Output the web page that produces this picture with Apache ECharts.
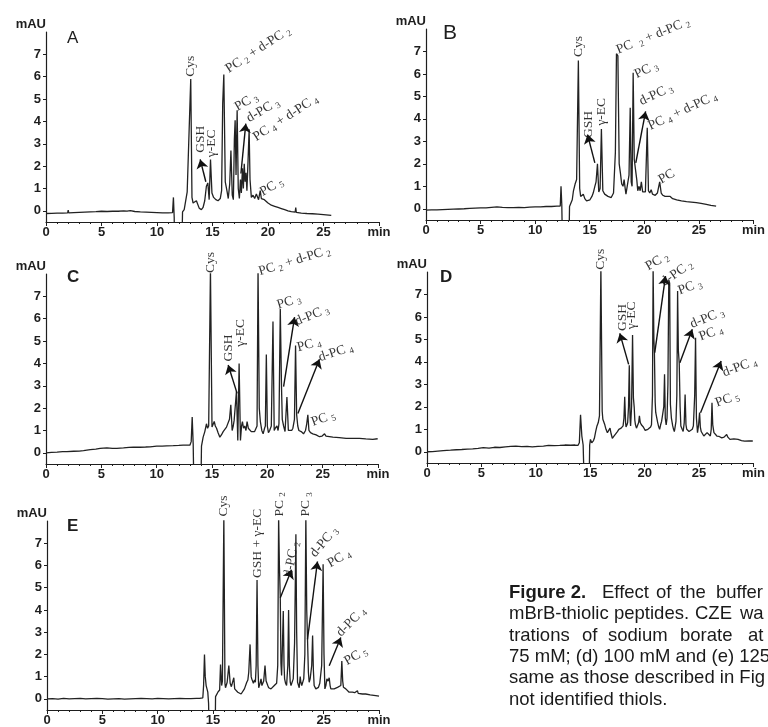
<!DOCTYPE html>
<html>
<head>
<meta charset="utf-8">
<script src="https://cdn.jsdelivr.net/npm/echarts@6/dist/echarts.min.js"></script>
<style>
  html, body { margin: 0; padding: 0; background: #fff; }
  #chart { width: 768px; height: 727px; }
</style>
</head>
<body>
<div id="chart"></div>
<script>
// electropherograms: [time (min), absorbance (mAU)]
const traceA = [[0,-0.12],[0.5,-0.11],[1,-0.1],[1.5,-0.1],[1.95,-0.09],[2.0,0.03],[2.05,-0.09],[2.5,-0.08],[3,-0.07],[3.5,-0.06],[4,-0.05],[4.5,-0.04],[5,-0.02],[5.5,-0.03],[6,-0.02],[6.5,-0.02],[7,0.0],[7.3,-0.01],[7.6,0.01],[8,-0.03],[8.5,-0.05],[9,-0.06],[9.5,-0.07],[10,-0.08],[10.5,-0.09],[11,-0.09],[11.4,-0.08],[11.48,0.6],[11.55,-0.3],[11.58,-1.5],[12.25,-1.5],[12.3,-0.05],[12.45,0.05],[12.6,0.12],[12.72,0.85],[12.85,0.9],[13.04,5.9],[13.15,0.6],[13.25,0.35],[13.4,0.3],[13.55,0.45],[13.65,0.4],[13.8,0.12],[14.0,0.05],[14.15,0.15],[14.3,0.45],[14.45,1.1],[14.58,1.25],[14.7,0.5],[14.82,2.3],[14.95,0.8],[15.1,0.6],[15.3,0.5],[15.5,0.45],[15.7,0.55],[15.82,0.9],[15.92,4.8],[16.02,6.1],[16.15,1.3],[16.3,0.9],[16.42,0.55],[16.55,1.2],[16.66,2.7],[16.78,0.7],[16.88,0.5],[16.97,3.2],[17.04,4.05],[17.12,1.6],[17.22,4.5],[17.32,1.0],[17.42,0.55],[17.52,1.4],[17.6,0.8],[17.7,1.9],[17.78,1.0],[17.86,2.1],[17.94,1.3],[18.02,1.7],[18.1,0.9],[18.2,2.2],[18.3,3.65],[18.38,1.4],[18.5,0.6],[18.65,0.7],[18.8,0.55],[18.95,0.75],[19.05,0.8],[19.15,0.5],[19.3,0.9],[19.4,0.55],[19.67,0.5],[20.0,0.35],[20.3,0.25],[20.6,0.2],[20.9,0.15],[21.2,0.1],[21.5,0.05],[21.8,0.0],[22.1,-0.04],[22.45,-0.06],[22.5,0.15],[22.55,-0.07],[23,-0.1],[23.5,-0.12],[24,-0.13],[24.5,-0.15],[25,-0.17],[25.7,-0.2]];

const traceB = [[0,-0.06],[0.5,-0.05],[1,-0.05],[1.5,-0.04],[2,-0.03],[2.5,-0.02],[3,-0.01],[3.5,0.0],[4,0.02],[4.5,0.03],[5,0.04],[5.5,0.04],[6,0.06],[6.5,0.08],[7,0.06],[7.5,0.05],[8,0.05],[8.5,0.06],[9,0.05],[9.5,0.07],[10,0.08],[10.5,0.08],[11,0.1],[11.5,0.1],[12,0.12],[12.3,0.12],[12.37,1.0],[12.44,0.2],[12.5,-1.5],[13.1,-1.5],[13.15,0.1],[13.27,0.15],[13.4,0.4],[13.51,0.8],[13.66,1.1],[13.8,1.3],[13.96,6.6],[14.08,0.9],[14.17,0.55],[14.3,0.5],[14.41,0.65],[14.55,0.45],[14.71,0.35],[14.85,0.3],[15.02,0.4],[15.2,0.55],[15.32,0.7],[15.47,1.0],[15.58,1.2],[15.71,2.0],[15.83,0.75],[15.95,0.9],[16.07,3.55],[16.2,0.8],[16.37,0.65],[16.5,0.7],[16.67,0.55],[16.85,0.6],[16.97,0.5],[17.18,0.7],[17.35,2.5],[17.45,6.9],[17.58,6.8],[17.7,2.0],[17.81,1.6],[17.93,1.1],[18.05,1.0],[18.15,1.3],[18.25,0.9],[18.32,0.65],[18.47,0.7],[18.6,1.5],[18.71,4.5],[18.8,1.2],[18.88,1.0],[18.98,6.05],[19.08,2.2],[19.18,1.8],[19.31,1.3],[19.4,0.8],[19.52,1.0],[19.62,0.8],[19.73,1.2],[19.85,0.75],[19.97,0.7],[20.1,0.75],[20.27,3.6],[20.38,0.8],[20.5,0.7],[20.63,0.85],[20.75,0.65],[20.87,0.65],[21.0,0.6],[21.2,0.7],[21.41,1.2],[21.55,0.7],[21.7,0.6],[21.9,0.55],[22.07,0.5],[22.37,0.55],[22.6,0.45],[22.97,0.4],[23.4,0.35],[23.87,0.32],[24.3,0.3],[24.77,0.27],[25.2,0.24],[25.68,0.2],[26.1,0.15],[26.58,0.12]];

const traceC = [[0,0.0],[0.5,0.02],[1,0.03],[1.5,0.05],[1.89,0.05],[2.5,0.07],[3,0.08],[3.39,0.1],[4,0.14],[4.5,0.17],[4.89,0.2],[5.5,0.22],[6,0.2],[6.4,0.2],[7,0.22],[7.5,0.24],[7.9,0.25],[8.5,0.25],[9,0.26],[9.4,0.27],[10,0.3],[10.5,0.3],[10.9,0.31],[11.5,0.32],[12,0.33],[12.4,0.34],[13.0,0.34],[13.12,0.5],[13.21,1.6],[13.3,0.4],[13.36,-1.5],[14.0,-1.5],[14.05,0.3],[14.2,0.7],[14.35,0.95],[14.5,1.3],[14.6,1.1],[14.7,1.2],[14.86,8.2],[15.0,1.15],[15.1,1.2],[15.2,1.4],[15.3,1.2],[15.41,1.1],[15.55,0.9],[15.71,0.7],[15.85,0.8],[16.01,0.95],[16.15,1.0],[16.31,1.15],[16.46,1.2],[16.58,1.5],[16.7,2.15],[16.82,1.0],[16.92,1.2],[17.0,1.45],[17.1,1.5],[17.21,2.75],[17.33,0.55],[17.45,4.0],[17.57,0.55],[17.67,1.2],[17.75,1.4],[17.85,1.1],[17.96,1.2],[18.07,1.0],[18.17,1.4],[18.28,1.1],[18.41,1.1],[18.55,0.95],[18.71,1.0],[18.85,0.95],[18.95,1.0],[19.07,1.2],[19.16,8.2],[19.27,2.0],[19.37,1.4],[19.5,1.0],[19.62,0.85],[19.75,1.1],[19.82,1.2],[19.91,4.4],[20.0,1.2],[20.1,0.9],[20.21,1.0],[20.36,1.2],[20.51,5.87],[20.62,1.0],[20.72,1.1],[20.87,1.2],[20.97,1.0],[21.05,1.3],[21.17,6.45],[21.28,2.95],[21.35,1.5],[21.47,1.2],[21.6,0.95],[21.77,2.5],[21.9,1.0],[22.05,0.95],[22.2,1.0],[22.31,1.1],[22.45,1.5],[22.55,4.8],[22.65,1.7],[22.75,1.2],[22.85,1.0],[23.06,0.95],[23.27,0.85],[23.45,1.0],[23.56,1.3],[23.66,1.7],[23.76,1.0],[23.9,0.9],[24.11,0.85],[24.41,0.8],[24.71,0.72],[24.95,0.75],[25.17,0.85],[25.3,0.75],[25.47,0.72],[25.92,0.7],[26.5,0.68],[27.12,0.65],[27.7,0.65],[28.32,0.65],[28.9,0.62],[29.52,0.6],[29.97,0.63]];

const traceD = [[0,0.0],[0.5,0.01],[1,0.03],[1.5,0.05],[2.16,0.07],[2.7,0.09],[3.2,0.1],[3.7,0.12],[4.2,0.13],[4.7,0.15],[5.17,0.18],[5.7,0.16],[6.2,0.2],[6.7,0.19],[7.2,0.22],[7.7,0.24],[8.17,0.25],[8.7,0.23],[9.2,0.24],[9.67,0.22],[10.2,0.24],[10.7,0.25],[11.17,0.28],[11.7,0.27],[12.2,0.28],[12.67,0.3],[13.2,0.29],[13.6,0.3],[13.87,0.28],[14.0,0.4],[14.11,1.65],[14.23,0.7],[14.35,0.3],[14.45,-1.5],[14.9,-1.5],[14.95,0.3],[15.02,0.55],[15.14,0.4],[15.3,0.5],[15.38,0.6],[15.5,0.9],[15.62,1.15],[15.74,1.3],[15.85,1.6],[15.98,8.2],[16.1,1.8],[16.16,1.45],[16.25,1.5],[16.34,1.2],[16.45,1.0],[16.58,0.85],[16.7,0.9],[16.82,1.05],[16.92,0.8],[17.03,0.6],[17.18,0.7],[17.33,0.75],[17.5,0.9],[17.63,1.0],[17.75,0.95],[17.84,1.05],[17.95,1.1],[18.02,1.15],[18.1,1.5],[18.17,2.45],[18.25,1.3],[18.29,1.1],[18.38,1.2],[18.44,1.3],[18.52,2.0],[18.59,3.85],[18.66,1.5],[18.71,1.15],[18.8,2.0],[18.89,5.2],[18.97,2.4],[19.04,2.0],[19.1,1.4],[19.16,1.2],[19.25,1.05],[19.34,1.1],[19.45,1.3],[19.52,1.6],[19.6,1.3],[19.7,1.2],[19.88,1.1],[20.05,0.95],[20.18,0.9],[20.3,1.0],[20.42,1.05],[20.55,1.1],[20.63,1.2],[20.72,2.5],[20.78,8.2],[20.85,5.0],[20.9,4.4],[20.97,2.2],[21.02,1.75],[21.12,1.5],[21.2,1.3],[21.3,1.1],[21.38,1.0],[21.47,1.2],[21.56,1.35],[21.68,1.3],[21.76,2.0],[21.83,3.45],[21.9,1.5],[21.98,1.2],[22.06,1.5],[22.14,3.0],[22.22,7.65],[22.3,7.5],[22.37,2.1],[22.46,1.5],[22.58,1.15],[22.66,1.0],[22.73,0.9],[22.8,1.1],[22.88,1.35],[22.96,2.5],[23.03,7.15],[23.1,4.5],[23.18,3.95],[23.26,2.0],[23.33,1.15],[23.45,1.0],[23.54,0.9],[23.64,1.3],[23.72,2.55],[23.8,1.2],[23.87,1.0],[23.98,0.95],[24.08,0.9],[24.2,0.95],[24.38,1.0],[24.48,1.15],[24.53,1.2],[24.6,2.5],[24.68,5.07],[24.76,1.5],[24.86,0.85],[24.96,1.2],[25.05,1.75],[25.12,1.1],[25.2,0.9],[25.32,0.8],[25.44,0.7],[25.6,0.75],[25.74,0.85],[25.9,0.8],[26.04,0.7],[26.12,1.0],[26.19,2.18],[26.26,1.2],[26.37,0.85],[26.5,0.8],[26.64,0.7],[26.85,0.68],[27.09,0.62],[27.3,0.65],[27.54,0.77],[27.65,0.65],[27.84,0.55],[28.2,0.57],[28.59,0.55],[28.9,0.5],[29.19,0.47],[29.6,0.48],[29.94,0.48]];

const traceE = [[0,0.0],[0.5,0.01],[1,-0.01],[1.5,0.02],[2,0.0],[2.5,0.01],[3,0.02],[3.5,0.0],[4,0.01],[4.5,0.02],[5,0.01],[5.5,-0.01],[6,0.0],[6.5,0.01],[7,-0.01],[7.5,0.0],[8,0.01],[8.5,0.02],[9,0.01],[9.5,0.0],[10,0.02],[10.5,0.01],[11,0.0],[11.5,0.01],[12,0.02],[12.5,0.01],[13,0.01],[13.5,0.02],[13.78,0.02],[14.08,0.05],[14.15,0.6],[14.23,2.0],[14.3,1.0],[14.38,0.6],[14.53,0.3],[14.6,-0.2],[14.65,-1.5],[15.2,-1.5],[15.23,0.1],[15.29,0.15],[15.44,0.3],[15.52,0.25],[15.6,0.4],[15.68,1.55],[15.78,0.6],[15.85,0.8],[15.98,8.2],[16.08,0.7],[16.13,0.5],[16.28,0.75],[16.43,1.5],[16.55,0.7],[16.66,0.55],[16.73,0.5],[16.8,0.6],[16.88,0.95],[16.96,0.45],[17.03,0.37],[17.24,0.3],[17.54,0.22],[17.7,0.3],[17.84,0.45],[18.05,0.75],[18.15,0.85],[18.23,1.2],[18.35,2.45],[18.45,1.0],[18.5,0.9],[18.65,0.7],[18.75,0.85],[18.83,0.75],[18.9,1.5],[18.98,5.35],[19.06,1.5],[19.13,0.5],[19.25,0.7],[19.34,0.9],[19.42,0.6],[19.49,0.6],[19.58,0.8],[19.7,1.5],[19.8,0.8],[19.85,0.75],[19.95,0.6],[20.03,0.5],[20.24,0.45],[20.4,0.5],[20.54,0.6],[20.65,0.65],[20.75,0.7],[20.85,1.5],[20.93,8.2],[21.0,6.0],[21.08,4.55],[21.14,1.6],[21.2,1.05],[21.28,2.5],[21.35,3.95],[21.42,1.5],[21.47,0.9],[21.56,0.7],[21.65,0.6],[21.76,1.5],[21.83,4.0],[21.9,1.5],[21.98,0.75],[22.05,0.6],[22.13,0.6],[22.25,0.9],[22.37,2.5],[22.49,7.4],[22.56,3.0],[22.64,0.75],[22.79,0.5],[22.88,1.0],[22.94,0.75],[23.02,0.6],[23.09,0.6],[23.2,0.9],[23.3,2.0],[23.39,8.2],[23.47,4.0],[23.54,2.7],[23.62,1.2],[23.69,0.75],[23.78,0.9],[23.84,0.9],[23.92,1.5],[24.0,2.85],[24.07,1.3],[24.14,0.6],[24.29,0.45],[24.4,0.5],[24.53,0.52],[24.65,0.7],[24.74,0.67],[24.82,1.5],[24.95,6.05],[25.03,2.0],[25.11,0.45],[25.2,0.6],[25.29,0.9],[25.4,0.8],[25.5,0.95],[25.58,0.6],[25.65,0.45],[25.8,0.5],[25.95,0.45],[26.1,0.45],[26.25,0.52],[26.4,0.5],[26.55,0.6],[26.64,1.7],[26.72,0.8],[26.79,0.52],[27.0,0.45],[27.3,0.3],[27.6,0.3],[27.8,0.28],[28.05,0.37],[28.12,0.25],[28.2,0.22],[28.5,0.22],[28.8,0.22],[29.2,0.18],[29.7,0.15],[30.0,0.12]];

// peak labels: [text, time, mAU, rotation]
const labelsA = [['Cys',13.04,6.0,90],['GSH',13.9,2.6,90],['γ-EC',14.95,2.4,90],['PC {s|2} + d-PC {s|2}',16.3,6.3,33],['PC {s|3}',17.1,4.6,30],['d-PC {s|3}',18.16,4.1,30],['PC {s|4} + d-PC {s|4}',18.77,3.25,33],['PC {s|5}',19.37,0.8,30]];
const labelsB = [['Cys',13.96,6.75,90],['GSH',14.86,3.15,90],['γ-EC',16.07,3.7,90],['PC  {s|2} + d-PC {s|2}',17.5,7.05,22],['PC {s|3}',19.16,5.95,25],['d-PC {s|3}',19.6,4.75,25],['PC {s|4} + d-PC {s|4}',20.42,3.65,25],['PC',21.4,1.25,30]];
const labelsC = [['Cys',14.86,8.05,90],['GSH',16.46,4.08,90],['γ-EC',17.57,4.75,90],['PC {s|2} + d-PC {s|2}',19.25,8.1,17],['PC {s|3}',20.9,6.6,17],['d-PC {s|3}',22.55,5.85,22],['PC {s|4}',22.7,4.7,15],['d-PC {s|4}',24.65,4.25,18],['PC {s|5}',24.02,1.35,20]];
const labelsD = [['Cys',15.98,8.1,90],['GSH',17.99,5.37,90],['γ-EC',18.83,5.45,90],['PC {s|2}',20.18,8.2,30],['d-PC {s|2}',21.62,7.5,35],['PC {s|3}',23.12,7.15,20],['d-PC {s|3}',24.23,5.65,22],['PC {s|4}',25.05,5.1,20],['d-PC {s|4}',27.2,3.5,20],['PC {s|5}',26.55,2.15,20]];
const labelsE = [['Cys',15.98,8.2,90],['GSH + γ-EC',19.04,5.44,90],['PC {s|2}',20.99,8.2,90],['d-PC {s|2}',21.83,5.5,80],['PC {s|3}',23.39,8.2,90],['d-PC {s|3}',24.0,6.45,50],['PC {s|4}',25.44,6.05,30],['d-PC {s|4}',26.34,2.9,45],['PC {s|5}',26.94,1.65,30]];

// arrows: [fromTime, fromMAU, toTime, toMAU]
const arrowsA = [[14.4,1.3,13.89,2.3],[17.56,1.67,18.0,3.9]];
const arrowsB = [[15.47,2.04,14.8,3.3],[19.22,2.04,20.12,4.33]];
const arrowsC = [[17.27,2.66,16.46,3.93],[21.47,2.96,22.46,6.07],[22.76,1.76,24.71,4.19]];
const arrowsD = [[18.53,3.89,17.72,5.27],[20.93,4.41,21.92,7.82],[23.24,3.96,24.38,5.45],[25.14,1.74,27.03,4.04]];
const arrowsE = [[21.08,4.55,22.1,5.81],[23.54,2.68,24.44,6.18],[25.5,1.49,26.55,2.76]];

const panelNames = ['A', 'B', 'C', 'D', 'E'];
const yTicks = [0, 1, 2, 3, 4, 5, 6, 7];

const captionLines = [
  [['Figure 2.', 509, true], ['Effect', 602], ['of', 656], ['the', 680], ['buffer', 716]],
  [['mBrB-thiolic', 509], ['peptides.', 614], ['CZE', 695], ['wa', 740]],
  [['trations', 509], ['of', 582], ['sodium', 608], ['borate', 680], ['at', 748]],
  [['75 mM; (d) 100 mM and (e) 125', 509]],
  [['same as those described in Fig', 509]],
  [['not identified thiols.', 509]]
];

const traces = [traceA, traceB, traceC, traceD, traceE];
const labelSets = [labelsA, labelsB, labelsC, labelsD, labelsE];
const arrowSets = [arrowsA, arrowsB, arrowsC, arrowsD, arrowsE];

const grids = [
  { left: 46, top: 32, width: 333, height: 190 },
  { left: 426, top: 29, width: 331, height: 191 },
  { left: 46, top: 274, width: 332, height: 190 },
  { left: 427, top: 272, width: 332, height: 191 },
  { left: 47, top: 521, width: 332, height: 190 }
];

const ink = '#1e1e1e';
const sans = '"Liberation Sans", Arial, sans-serif';
const serif = '"Liberation Serif", "Times New Roman", serif';

const chart = echarts.init(document.getElementById('chart'));

const xAxes = grids.map((g, i) => ({
  gridIndex: i,
  type: 'value',
  min: 0,
  max: 30,
  interval: 5,
  axisLine: { onZero: false, lineStyle: { color: ink, width: 1.2 } },
  axisTick: { length: 4, lineStyle: { color: ink } },
  minorTick: { show: true, splitNumber: 5, length: 2, lineStyle: { color: ink } },
  splitLine: { show: false },
  axisLabel: {
    color: ink, fontFamily: sans, fontWeight: 'bold', fontSize: 13, margin: 4,
    formatter: (v) => (v === 30 ? 'min' : String(v))
  }
}));

const yAxes = grids.map((g, i) => ({
  gridIndex: i,
  type: 'value',
  min: -0.5,
  max: 8,
  name: 'mAU',
  nameLocation: 'end',
  nameGap: 1,
  nameTextStyle: { align: 'right', verticalAlign: 'bottom', color: ink, fontFamily: sans, fontWeight: 'bold', fontSize: 13 },
  axisLine: { show: true, lineStyle: { color: ink, width: 1.2 } },
  axisTick: { show: true, length: 3, customValues: yTicks, lineStyle: { color: ink } },
  splitLine: { show: false },
  axisLabel: { customValues: yTicks, color: ink, fontFamily: sans, fontWeight: 'bold', fontSize: 13, margin: 5 }
}));

const series = [];
traces.forEach((trace, i) => {
  series.push({
    type: 'line',
    xAxisIndex: i,
    yAxisIndex: i,
    data: trace,
    showSymbol: false,
    symbol: 'none',
    clip: true,
    lineStyle: { color: '#222', width: 1.3 },
    markLine: {
      silent: true,
      symbol: ['none', 'arrow'],
      symbolSize: 9,
      label: { show: false },
      lineStyle: { color: '#111', width: 1.4, type: 'solid' },
      data: arrowSets[i].map((a) => [{ coord: [a[0], a[1]] }, { coord: [a[2], a[3]] }])
    }
  });
  series.push({
    type: 'scatter',
    xAxisIndex: i,
    yAxisIndex: i,
    silent: true,
    clip: false,
    symbolSize: 0.1,
    itemStyle: { color: 'transparent' },
    label: {
      show: true,
      position: 'inside',
      align: 'left',
      verticalAlign: 'middle',
      color: '#000',
      fontFamily: serif,
      fontSize: 13.5,
      lineHeight: 13,
      formatter: (p) => p.name,
      rich: { s: { fontFamily: serif, fontSize: 9, lineHeight: 9, padding: [7, 0, 0, 0], color: '#000' } }
    },
    data: labelSets[i].map((l) => ({ name: l[0], value: [l[1], l[2]], label: { rotate: l[3] } }))
  });
});

const titlePos = [[67, 30, 17, 'normal'], [443, 23, 21, 'normal'], [67, 269, 17, 'bold'], [440, 269, 17, 'bold'], [67, 518, 17, 'bold']];
const titles = panelNames.map((n, i) => ({
  text: n,
  left: titlePos[i][0],
  top: titlePos[i][1],
  padding: 0,
  textStyle: { fontFamily: sans, fontSize: titlePos[i][2], fontWeight: titlePos[i][3], color: ink }
}));

const captionTop = 593;
const captionStep = 21.3;
const graphic = [];
captionLines.forEach((line, r) => {
  line.forEach((w) => {
    graphic.push({
      type: 'text',
      x: w[1],
      y: captionTop + r * captionStep,
      silent: true,
      style: {
        text: w[0],
        fontFamily: sans,
        fontSize: 18.5,
        fontWeight: w[2] ? 'bold' : 'normal',
        fill: '#1a1a1a',
        verticalAlign: 'middle'
      }
    });
  });
});

chart.setOption({
  animation: false,
  backgroundColor: '#fff',
  title: titles,
  grid: grids,
  xAxis: xAxes,
  yAxis: yAxes,
  series,
  graphic
});
</script>
</body>
</html>
